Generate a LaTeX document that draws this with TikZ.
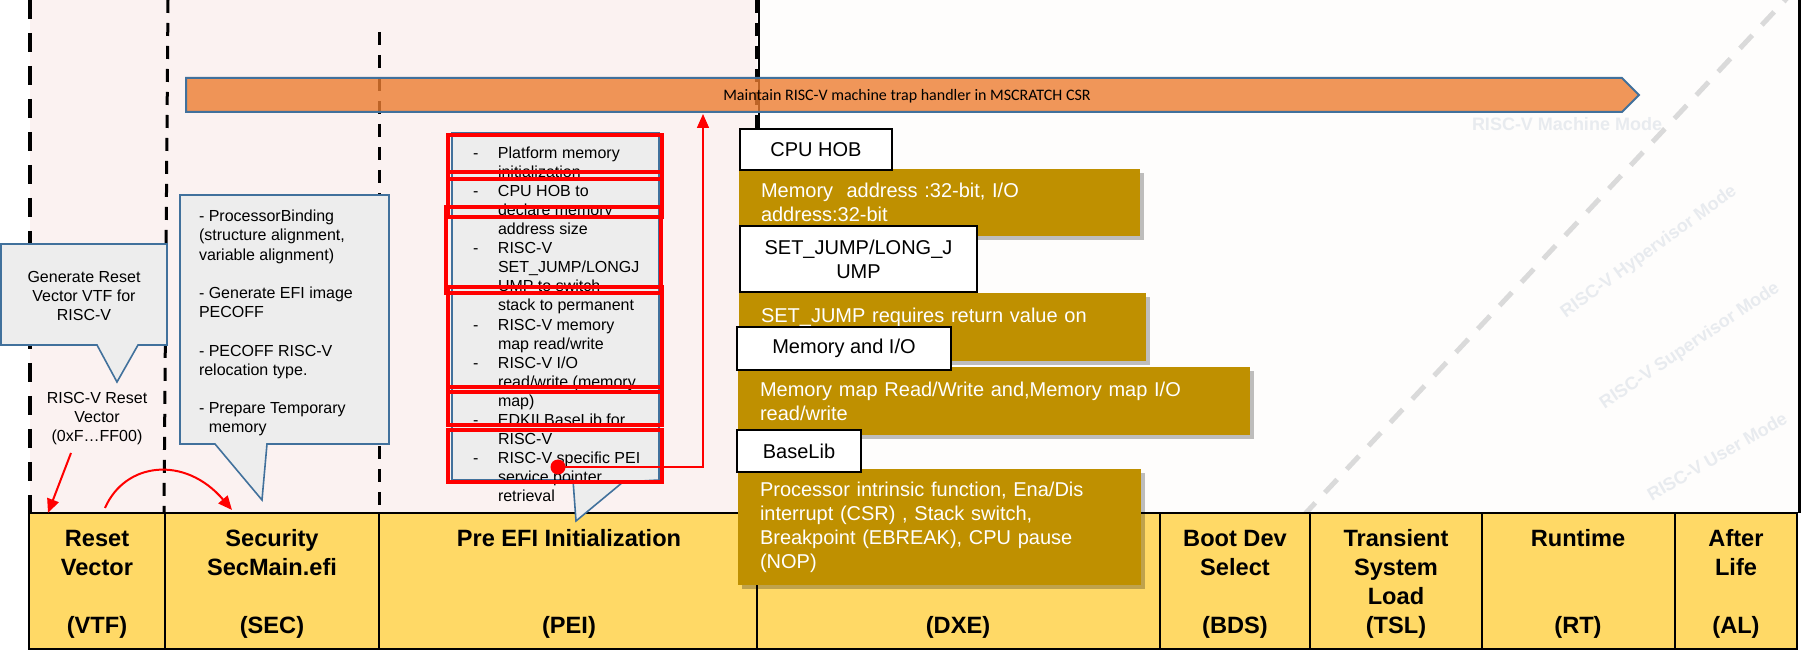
\documentclass[tikz,border=0pt]{standalone}
\usepackage{fontspec}
\setmainfont{Liberation Sans}
\newfontfamily\calfont{Carlito}
\usetikzlibrary{arrows.meta,shadows}
\definecolor{pinkbg}{RGB}{251,242,241}
\definecolor{dxebg}{RGB}{254,253,252}
\definecolor{calfill}{RGB}{237,237,237}
\definecolor{calborder}{RGB}{65,113,156}
\definecolor{phasey}{RGB}{255,217,102}
\definecolor{goldc}{RGB}{191,144,0}
\definecolor{barorange}{RGB}{237,125,49}
\definecolor{wmark}{RGB}{232,235,239}
\definecolor{diaggray}{RGB}{218,218,218}
\newcommand\pdash{\makebox[12.5pt][l]{-}}
\newcommand\pind{\hspace*{12.5pt}}
\begin{document}
\begin{tikzpicture}[x=0.5pt,y=-0.5pt,
  every node/.style={inner sep=0pt,outer sep=0pt},
  phasebox/.style={draw=black,line width=1pt,fill=phasey,minimum height=68pt,anchor=north west},
  phaselbl/.style={font=\bfseries\fontsize{11.8}{14.35}\selectfont,align=center,anchor=base},
  callout/.style={draw=calborder,line width=0.8pt,fill=calfill},
  caltext/.style={font=\fontsize{8}{9.6}\selectfont,anchor=base},
  goldnode/.style={fill=goldc,text=white,anchor=north west,align=left,inner xsep=11pt,inner ysep=0pt,font=\fontsize{10}{12}\selectfont,drop shadow={shadow xshift=2pt,shadow yshift=-2pt,opacity=0.25,fill=black}},
  lblbox/.style={draw=black,line width=1pt,fill=white,anchor=north west,align=center,font=\fontsize{10}{12}\selectfont},
  redbox/.style={draw=red,line width=2pt},
  redarrow/.style={draw=red,line width=1pt,-{Triangle[length=7pt,width=6pt]}},
  phasesep/.style={black,line width=1.5pt,dash pattern=on 6.5pt off 5pt},
  wm/.style={text=wmark,font=\bfseries\fontsize{9}{11}\selectfont}
]
\useasboundingbox (0,0) rectangle (1806,657);
\fill[white] (0,0) rectangle (1806,657);
% backgrounds
\fill[pinkbg] (30,0) rectangle (757,513);
\fill[dxebg] (759,0) rectangle (1799,513);
% watermarks
\node[wm] (wmM) at (1567,124) {RISC-V Machine Mode};
\node[wm,rotate=36] (wmH) at (1649,252) {RISC-V Hypervisor Mode};
\node[wm,rotate=34] (wmS) at (1690,346) {RISC-V Supervisor Mode};
\node[wm,rotate=30] (wmU) at (1717,456) {RISC-V User Mode};
\draw[diaggray,line width=2.5pt,dash pattern=on 9pt off 7pt] (1303,516) -- (1788,-3);
% separators
\draw[black,line width=2pt,dash pattern=on 9.5pt off 7pt] (30,0) -- (30,515);
\draw[phasesep] (168,0) -- (164,513);
\draw[phasesep] (379,32) -- (379,513);
\draw[phasesep] (756,0) -- (756,513);
\draw[line width=0.6pt] (759,0) -- (759,513);
\draw[line width=1.5pt] (1799,0) -- (1799,513);
% orange bar
\path[fill=barorange,fill opacity=0.8,draw=calborder,line width=1pt] (186,78) -- (1622,78) -- (1639,95) -- (1622,112) -- (186,112) -- cycle;
\node[font=\calfont\fontsize{8}{10}\selectfont] (bartext) at (907,96) {Maintain RISC-V machine trap handler in MSCRATCH CSR};
% phase boxes
\node[phasebox,minimum width=68pt] (vtf) at (29,513) {};
\node[phasebox,minimum width=107pt] (sec) at (165,513) {};
\node[phasebox,minimum width=189pt] (pei) at (379,513) {};
\node[phasebox,minimum width=201.5pt] (dxe) at (757,513) {};
\node[phasebox,minimum width=75pt] (bds) at (1160,513) {};
\node[phasebox,minimum width=86pt] (tsl) at (1310,513) {};
\node[phasebox,minimum width=96.5pt] (rt) at (1482,513) {};
\node[phasebox,minimum width=61pt] (al) at (1675,513) {};
% VTF callout
\path[callout] (1,244) -- (167,244) -- (167,345) -- (138,345) -- (117,382) -- (97,345) -- (1,345) -- cycle;
\node[caltext,align=center] (vtfnote) at (84,321) {Generate Reset\\Vector VTF for\\RISC-V};
\node[caltext,align=center] (rvlabel) at (97,442) {RISC-V Reset\\Vector\\(0xF…FF00)};
% SEC callout
\path[callout] (180,195) -- (389,195) -- (389,444) -- (267,444) -- (262,500) -- (215,444) -- (180,444) -- cycle;
\node[caltext,align=left,anchor=base west] (secnote) at (199,433) {- ProcessorBinding\\(structure alignment,\\variable alignment)\\\mbox{}\\- Generate EFI image\\PECOFF\\\mbox{}\\- PECOFF RISC-V\\relocation type.\\\mbox{}\\- Prepare Temporary\\\hspace*{4.9pt}memory};
% PEI callout
\path[callout] (452,133) -- (659,133) -- (659,480) -- (623,482) -- (576,521) -- (573,480) -- (452,480) -- cycle;
\node[font=\fontsize{8}{9.55}\selectfont,align=left,anchor=base west] (peinote) at (473,502) {\pdash Platform memory\\
\pind initialization\\
\pdash CPU HOB to\\
\pind declare memory\\
\pind address size\\
\pdash RISC-V\\
\pind SET\_JUMP/LONGJ\\
\pind UMP to switch\\
\pind stack to permanent\\
\pdash RISC-V memory\\
\pind map read/write\\
\pdash RISC-V I/O\\
\pind read/write (memory\\
\pind map)\\
\pdash EDKII BaseLib for\\
\pind RISC-V\\
\pdash RISC-V specific PEI\\
\pind service pointer\\
\pind retrieval};
\draw[redbox] (448,135) rectangle (662,179);
\draw[redbox] (448,172) rectangle (662,217);
\draw[redbox] (446,207) rectangle (661,293);
\draw[redbox] (448,287) rectangle (662,392);
\draw[redbox] (448,387) rectangle (662,425);
\draw[redbox] (448,430) rectangle (662,482);
\node[circle,fill=red,minimum size=7.5pt] (rdot) at (558,467) {};
\coordinate (rtip) at (703,114);
\draw[redarrow,line width=0.75pt] (rdot.center) -| (rtip);
% DXE gold boxes
\node[goldnode,text width=178.5pt,minimum height=33.5pt] (g1) at (739,169) {Memory\ \ address :32-bit, I/O\\address:32-bit};
\node[goldnode,text width=181.5pt,minimum height=34pt] (g2) at (739,293) {SET\_JUMP requires return value on\\\mbox{}};
\node[goldnode,text width=234pt,minimum height=34pt] (g3) at (738,367) {Memory map Read/Write and,Memory map I/O\\read/write};
\node[goldnode,text width=179.5pt,minimum height=58pt] (g4) at (738,469) {Processor intrinsic function, Ena/Dis\\interrupt (CSR) , Stack switch,\\Breakpoint (EBREAK), CPU pause\\(NOP)};
\node[lblbox,minimum width=76pt,minimum height=20.5pt] (hob) at (740,129) {CPU HOB};
\node[lblbox,minimum width=118.5pt,minimum height=33pt] (sj) at (740,226) {SET\_JUMP/LONG\_J\\UMP};
\node[lblbox,minimum width=107pt,minimum height=21.5pt] (mio) at (737,327) {Memory and I/O};
\node[lblbox,minimum width=62pt,minimum height=21pt] (bl) at (737,430) {BaseLib};
% phase labels (anchor = baseline of last line)
\node[phaselbl] (lvtf) at (97,633) {Reset\\Vector\\\mbox{}\\(VTF)};
\node[phaselbl] (lsec) at (272,633) {Security\\SecMain.efi\\\mbox{}\\(SEC)};
\node[phaselbl] (lpei) at (569,633) {Pre EFI Initialization\\\mbox{}\\\mbox{}\\(PEI)};
\node[phaselbl] (ldxe) at (958,633) {(DXE)};
\node[phaselbl] (lbds) at (1235,633) {Boot Dev\\Select\\\mbox{}\\(BDS)};
\node[phaselbl] (ltsl) at (1396,633) {Transient\\System\\Load\\(TSL)};
\node[phaselbl] (lrt) at (1578,633) {Runtime\\\mbox{}\\\mbox{}\\(RT)};
\node[phaselbl] (lal) at (1736,633) {After\\Life\\\mbox{}\\(AL)};
% VTF arrows
\coordinate (r1s) at (71,453);
\coordinate (r1e) at (48,513);
\draw[redarrow] (r1s) -- (r1e);
\coordinate (r2s) at (105,508);
\coordinate (r2e) at (232,510);
\draw[redarrow] (r2s) .. controls (125,462) and (185,455) .. (r2e);
\end{tikzpicture}
\end{document}
